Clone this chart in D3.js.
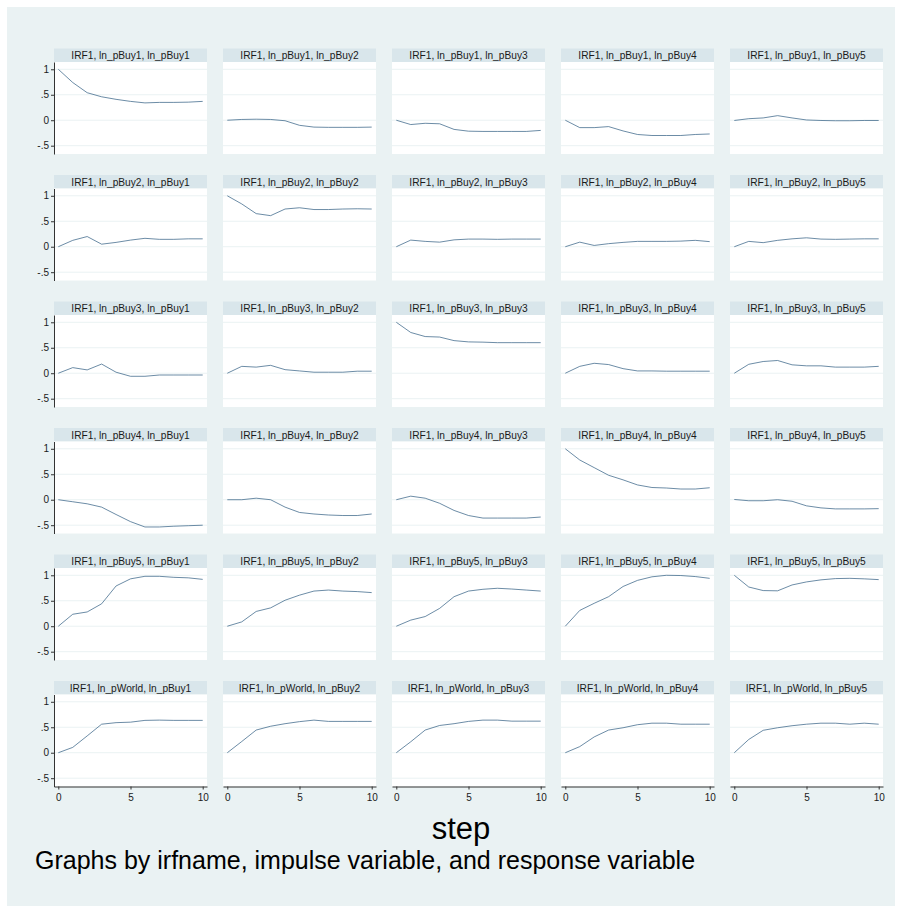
<!DOCTYPE html>
<html>
<head>
<meta charset="utf-8">
<script src="https://cdn.jsdelivr.net/npm/d3@7"></script>
<style>
  html, body { margin: 0; padding: 0; background: #fff; }
  svg { display: block; font-family: "Liberation Sans", Arial, sans-serif; }
</style>
</head>
<body>
<svg id="viz" width="902" height="909"></svg>
<script>
// impulse rows, response columns
const impulses  = ["ln_pBuy1", "ln_pBuy2", "ln_pBuy3", "ln_pBuy4", "ln_pBuy5", "ln_pWorld"];
const responses = ["ln_pBuy1", "ln_pBuy2", "ln_pBuy3", "ln_pBuy4", "ln_pBuy5"];
const steps = [0, 1, 2, 3, 4, 5, 6, 7, 8, 9, 10];

// IRF values, one array per response
const irfBuy1 = [
  [1, .74, .54, .46, .41, .37, .34, .35, .35, .355, .37],
  [0, .015, .02, .015, -.01, -.1, -.135, -.14, -.14, -.14, -.135],
  [0, -.085, -.06, -.07, -.18, -.215, -.22, -.22, -.22, -.22, -.2],
  [0, -.145, -.145, -.125, -.21, -.28, -.3, -.3, -.3, -.28, -.27],
  [-.005, .03, .045, .09, .045, .005, -.005, -.01, -.01, -.005, -.005]
];
const irfBuy2 = [
  [0, .125, .2, .05, .085, .13, .165, .145, .145, .155, .155],
  [1, .84, .65, .61, .74, .765, .73, .73, .74, .745, .74],
  [0, .13, .105, .09, .135, .15, .15, .145, .15, .15, .15],
  [0, .09, .025, .06, .085, .105, .105, .105, .11, .125, .1],
  [0, .105, .08, .125, .155, .175, .15, .145, .15, .155, .155]
];
const irfBuy3 = [
  [0, .11, .065, .18, .02, -.06, -.06, -.035, -.035, -.035, -.035],
  [0, .135, .12, .155, .07, .045, .02, .02, .02, .04, .04],
  [1, .8, .72, .71, .64, .615, .61, .6, .6, .6, .6],
  [0, .135, .195, .17, .09, .045, .045, .04, .04, .04, .04],
  [0, .175, .23, .25, .165, .145, .145, .12, .12, .12, .135]
];
const irfBuy4 = [
  [0, -.04, -.08, -.145, -.29, -.43, -.535, -.535, -.52, -.51, -.5],
  [0, 0, .03, 0, -.145, -.25, -.28, -.3, -.31, -.31, -.28],
  [0, .07, .03, -.07, -.21, -.31, -.36, -.36, -.36, -.36, -.34],
  [1, .78, .63, .48, .39, .29, .24, .23, .21, .21, .235],
  [.005, -.02, -.02, 0, -.03, -.12, -.16, -.18, -.18, -.18, -.175]
];
const irfBuy5 = [
  [0, .235, .28, .44, .79, .93, .98, .98, .96, .95, .92],
  [0, .085, .29, .36, .51, .61, .69, .71, .69, .68, .66],
  [0, .12, .19, .35, .58, .69, .725, .745, .73, .71, .69],
  [0, .31, .45, .58, .78, .9, .97, 1, .995, .975, .94],
  [1, .77, .7, .695, .81, .87, .91, .935, .94, .93, .915]
];
const irfWorld = [
  [0, .105, .33, .56, .59, .6, .635, .64, .635, .635, .635],
  [0, .22, .445, .52, .57, .61, .64, .615, .615, .615, .615],
  [0, .215, .445, .535, .57, .615, .64, .64, .62, .62, .62],
  [0, .12, .31, .445, .49, .55, .58, .58, .56, .56, .56],
  [0, .26, .44, .49, .53, .56, .58, .58, .56, .58, .56]
];
const irfByImpulse = [irfBuy1, irfBuy2, irfBuy3, irfBuy4, irfBuy5, irfWorld];

const yTicks = [-0.5, 0, 0.5, 1];
const yTickLabels = ["-.5", "0", ".5", "1"];
const xTicks = [0, 5, 10];

// layout
const X0 = 54, Y0 = 62, COLW = 169, ROWH = 126.5;
const PW = 153, PH = 92, HEAD = 13.5;

const svg = d3.select("#viz");

svg.append("rect")
  .attr("x", 7).attr("y", 7).attr("width", 888).attr("height", 899)
  .attr("fill", "#eaf2f3");

const x = d3.scaleLinear().domain([-0.298, 10.298]).range([0, PW]);
const y = d3.scaleLinear().domain([-0.663, 1.143]).range([PH, 0]);

const line = d3.line()
  .x((d, i) => x(steps[i]))
  .y(d => y(d));

impulses.forEach((imp, r) => {
  responses.forEach((resp, c) => {
    const g = svg.append("g")
      .attr("transform", `translate(${X0 + c * COLW},${Y0 + r * ROWH})`);

    // header strip
    g.append("rect")
      .attr("x", 0).attr("y", -HEAD).attr("width", PW).attr("height", HEAD)
      .attr("fill", "#d9e6eb");
    g.append("text")
      .attr("x", PW / 2).attr("y", -3)
      .attr("text-anchor", "middle")
      .attr("font-size", 10.2).attr("fill", "#1a1a1a")
      .text(`IRF1, ${imp}, ${resp}`);

    // plot region
    g.append("rect")
      .attr("width", PW).attr("height", PH)
      .attr("fill", "#fff");

    g.selectAll("line.grid")
      .data(yTicks)
      .join("line")
        .attr("class", "grid")
        .attr("x1", 0).attr("x2", PW)
        .attr("y1", d => y(d)).attr("y2", d => y(d))
        .attr("stroke", "#eaf2f3").attr("stroke-width", 1);

    g.append("path")
      .datum(irfByImpulse[r][c])
      .attr("d", line)
      .attr("fill", "none")
      .attr("stroke", "#2c5a80")
      .attr("stroke-width", 0.7);

    if (c === 0) {
      const ay = g.append("g")
        .call(d3.axisLeft(y).tickValues(yTicks)
          .tickFormat((d, i) => yTickLabels[i])
          .tickSize(3).tickSizeOuter(0).tickPadding(2));
      ay.select(".domain").attr("stroke", "#333");
      ay.selectAll(".tick line").attr("stroke", "#333");
      ay.selectAll(".tick text").attr("font-size", 10).attr("fill", "#1a1a1a")
        .attr("font-family", "Liberation Sans, Arial, sans-serif");
    }
    if (r === impulses.length - 1) {
      const ax = g.append("g")
        .attr("transform", `translate(0,${PH})`)
        .call(d3.axisBottom(x).tickValues(xTicks)
          .tickSize(3).tickSizeOuter(0).tickPadding(4));
      ax.select(".domain").attr("stroke", "#333");
      ax.selectAll(".tick line").attr("stroke", "#333");
      ax.selectAll(".tick text").attr("font-size", 10).attr("fill", "#1a1a1a")
        .attr("font-family", "Liberation Sans, Arial, sans-serif");
    }
  });
});

svg.append("text")
  .attr("x", 461).attr("y", 839)
  .attr("text-anchor", "middle")
  .attr("font-size", 31).attr("fill", "#000")
  .text("step");

svg.append("text")
  .attr("x", 35).attr("y", 869)
  .attr("font-size", 25).attr("fill", "#000")
  .text("Graphs by irfname, impulse variable, and response variable");
</script>
</body>
</html>
